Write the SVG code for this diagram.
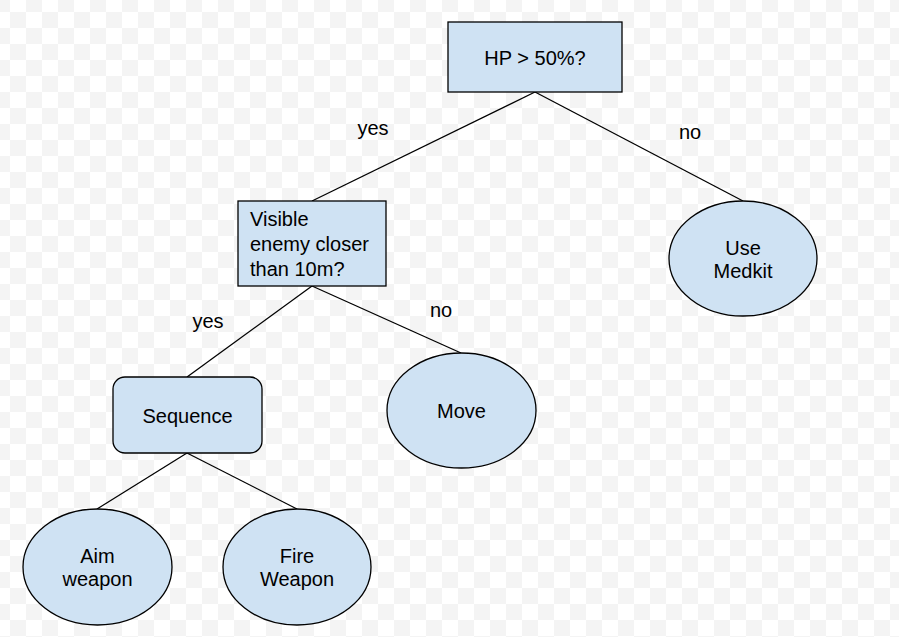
<svg xmlns="http://www.w3.org/2000/svg" width="899" height="637" viewBox="0 0 899 637">
  <defs>
    <pattern id="checker" x="-6" y="-4" width="32" height="32" patternUnits="userSpaceOnUse">
      <rect x="0" y="0" width="32" height="32" fill="#ffffff"/>
      <rect x="0" y="0" width="16" height="16" fill="#f4f4f4"/>
      <rect x="16" y="16" width="16" height="16" fill="#f4f4f4"/>
    </pattern>
    <style>
      .shape { fill: #cfe2f3; stroke: #000000; stroke-width: 1.3; }
      .edge { stroke: #000000; stroke-width: 1.3; fill: none; }
      text { font-family: "Liberation Sans", Arial, sans-serif; font-size: 20px; fill: #000000; }
      .c { text-anchor: middle; }
    </style>
  </defs>
  <rect x="0" y="0" width="899" height="637" fill="url(#checker)"/>

  <g id="connectors">
    <line class="edge" x1="535" y1="92" x2="312" y2="201"/>
    <line class="edge" x1="535" y1="92" x2="743" y2="201"/>
    <line class="edge" x1="312" y1="286" x2="187" y2="377"/>
    <line class="edge" x1="312" y1="286" x2="461" y2="353"/>
    <line class="edge" x1="187" y1="453" x2="97" y2="509"/>
    <line class="edge" x1="187" y1="453" x2="297" y2="509"/>
    <text class="c" x="373" y="135">yes</text>
    <text class="c" x="690" y="139">no</text>
    <text class="c" x="208" y="328">yes</text>
    <text class="c" x="441" y="317">no</text>
  </g>

  <g id="hp">
    <rect class="shape" x="448" y="22" width="174" height="70"/>
    <text class="c" x="535" y="65">HP &gt; 50%?</text>
  </g>

  <g id="visible">
    <rect class="shape" x="238" y="201" width="148" height="85"/>
    <text x="250" y="226">Visible</text>
    <text x="250" y="251">enemy closer</text>
    <text x="250" y="276">than 10m?</text>
  </g>

  <g id="medkit">
    <ellipse class="shape" cx="743" cy="258.5" rx="74" ry="57.5"/>
    <text class="c" x="743" y="255">Use</text>
    <text class="c" x="743" y="278">Medkit</text>
  </g>

  <g id="sequence">
    <rect class="shape" x="113" y="377" width="149" height="76" rx="12" ry="12"/>
    <text class="c" x="187.5" y="423">Sequence</text>
  </g>

  <g id="move">
    <ellipse class="shape" cx="461.5" cy="410.5" rx="74.5" ry="57.5"/>
    <text class="c" x="461.5" y="418">Move</text>
  </g>

  <g id="aim">
    <ellipse class="shape" cx="97.5" cy="567" rx="74.5" ry="58"/>
    <text class="c" x="97.5" y="563">Aim</text>
    <text class="c" x="97.5" y="586">weapon</text>
  </g>

  <g id="fire">
    <ellipse class="shape" cx="297" cy="567" rx="74" ry="58"/>
    <text class="c" x="297" y="563">Fire</text>
    <text class="c" x="297" y="586">Weapon</text>
  </g>
</svg>
